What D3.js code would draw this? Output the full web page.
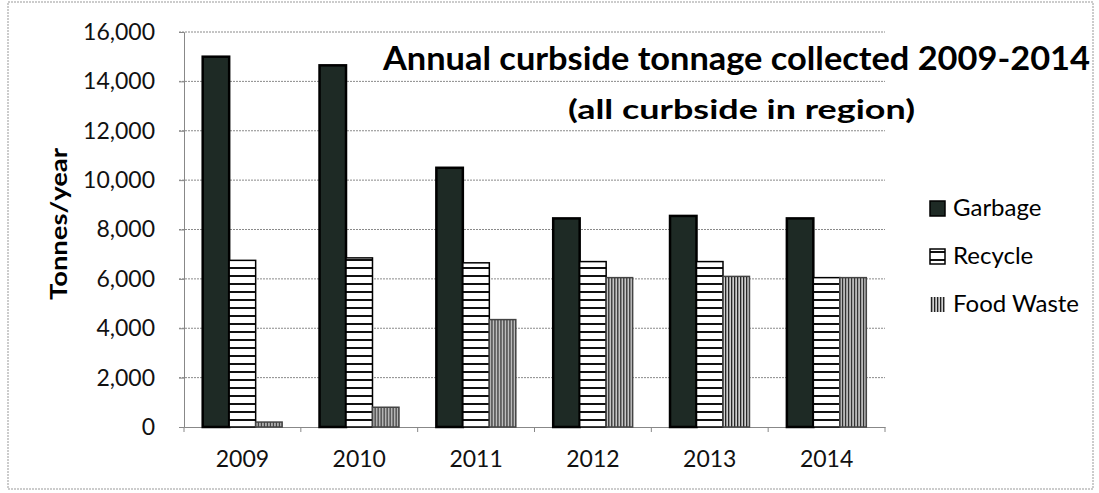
<!doctype html>
<html lang="en">
<head>
<meta charset="utf-8">
<style>
  body { margin: 0; background: #fff; }
  svg { display: block; font-family: Lato, "Open Sans", sans-serif; }
  .grid line { stroke: #8a8a8a; stroke-dasharray: 2,1; }
  .tick text { fill: #111; }
</style>
</head>
<body>
<script src="https://cdn.jsdelivr.net/npm/d3@7"></script>
<script>
var years = ["2009", "2010", "2011", "2012", "2013", "2014"];
var seriesNames = ["Garbage", "Recycle", "Food Waste"];
var garbage = [15000, 14650, 10500, 8450, 8550, 8450];
var recycle = [6750, 6850, 6650, 6700, 6700, 6050];
var foodWaste = [200, 800, 4350, 6050, 6100, 6050];
var yTicks = [0, 2000, 4000, 6000, 8000, 10000, 12000, 14000, 16000];

var width = 1099, height = 493;
var plotL = 184, plotR = 885, plotT = 32, plotB = 427;
var fontFam = "Lato, 'Open Sans', sans-serif";

var svg = d3.select("body").append("svg")
  .attr("width", width)
  .attr("height", height);

// patterns
var defs = svg.append("defs");
var pr = defs.append("pattern").attr("id", "hstripe")
  .attr("patternUnits", "userSpaceOnUse").attr("width", 8).attr("height", 8);
pr.append("rect").attr("width", 8).attr("height", 8).attr("fill", "#fff");
pr.append("rect").attr("y", 3).attr("width", 8).attr("height", 2).attr("fill", "#111");

var pf = defs.append("pattern").attr("id", "vstripe")
  .attr("patternUnits", "userSpaceOnUse").attr("width", 3).attr("height", 3);
pf.append("rect").attr("width", 3).attr("height", 3).attr("fill", "#d0d0d0");
pf.append("rect").attr("x", 1).attr("width", 1.3).attr("height", 3).attr("fill", "#222");

var fills = ["#1e2a25", "url(#hstripe)", "url(#vstripe)"];

// outer border
svg.append("rect")
  .attr("x", 8).attr("y", 2).attr("width", 1085).attr("height", 487)
  .attr("fill", "none").attr("stroke", "#999").attr("stroke-dasharray", "2,1");

var y = d3.scaleLinear().domain([0, 16000]).range([plotB, plotT]);
var x0 = d3.scaleBand().domain(years).range([plotL, plotR])
  .paddingInner(0.32).paddingOuter(0.16);
var x1 = d3.scaleBand().domain(seriesNames).range([0, x0.bandwidth()]);

// gridlines
svg.append("g").attr("class", "grid")
  .selectAll("line").data(yTicks.slice(1)).enter().append("line")
  .attr("x1", plotL - 5).attr("x2", plotR)
  .attr("y1", function(d) { return y(d); })
  .attr("y2", function(d) { return y(d); });

// y axis
var yAxis = svg.append("g")
  .attr("transform", "translate(" + plotL + ",0)")
  .call(d3.axisLeft(y).tickValues(yTicks).tickFormat(d3.format(",")).tickSize(5).tickPadding(24));
yAxis.attr("font-family", fontFam);
yAxis.selectAll("text").style("font-size", "23px");
yAxis.select(".domain").attr("stroke", "#888");
yAxis.selectAll(".tick line").attr("stroke", "#888");

// x axis
var xAxis = svg.append("g")
  .attr("transform", "translate(0," + plotB + ")")
  .call(d3.axisBottom(x0).tickSize(0).tickPadding(24));
xAxis.attr("font-family", fontFam);
xAxis.selectAll("text").style("font-size", "23px");
xAxis.select(".domain").attr("stroke", "#888");
var step = x0.step();
xAxis.selectAll(".sep").data(d3.range(years.length + 1)).enter().append("line")
  .attr("x1", function(i) { return plotL + i * step; })
  .attr("x2", function(i) { return plotL + i * step; })
  .attr("y1", 0).attr("y2", 5).attr("stroke", "#888");

// bars
var rows = years.map(function(yr, i) {
  return { year: yr, vals: [garbage[i], recycle[i], foodWaste[i]] };
});
var groups = svg.append("g").selectAll("g").data(rows).enter().append("g")
  .attr("transform", function(d) { return "translate(" + x0(d.year) + ",0)"; });
groups.selectAll("rect")
  .data(function(d) { return d.vals.map(function(v, k) { return { name: seriesNames[k], k: k, v: v }; }); })
  .enter().append("rect")
  .attr("x", function(d) { return x1(d.name); })
  .attr("width", x1.bandwidth())
  .attr("y", function(d) { return y(d.v); })
  .attr("height", function(d) { return plotB - y(d.v); })
  .attr("fill", function(d) { return fills[d.k]; })
  .attr("stroke", function(d) { return d.k == 2 ? "#444" : "#000"; })
  .attr("stroke-width", function(d) { return d.k == 0 ? 2.5 : 1.5; });

// title
svg.append("text")
  .attr("x", 383).attr("y", 70)
  .attr("textLength", 707).attr("lengthAdjust", "spacingAndGlyphs")
  .style("font-size", "33px").style("font-weight", "bold")
  .text("Annual curbside tonnage collected 2009-2014");
svg.append("text")
  .attr("x", 568).attr("y", 119)
  .attr("textLength", 347).attr("lengthAdjust", "spacingAndGlyphs")
  .style("font-size", "27px").style("font-weight", "bold")
  .text("(all curbside in region)");

// y title
svg.append("text")
  .attr("transform", "translate(67,224) rotate(-90)")
  .attr("text-anchor", "middle")
  .attr("textLength", 152).attr("lengthAdjust", "spacingAndGlyphs")
  .style("font-size", "23px").style("font-weight", "bold")
  .text("Tonnes/year");

// legend
var legend = svg.append("g").selectAll("g").data(seriesNames).enter().append("g")
  .attr("transform", function(d, i) { return "translate(930," + (216 + i * 48) + ")"; });
legend.append("rect")
  .attr("x", 0).attr("y", -15).attr("width", 15).attr("height", 15)
  .attr("fill", function(d, i) { return fills[i]; })
  .attr("stroke", function(d, i) { return i == 2 ? "none" : "#000"; })
  .attr("stroke-width", 1.5);
legend.append("text")
  .attr("x", 23).attr("y", 0)
  .style("font-size", "24px")
  .text(function(d) { return d; });
</script>
</body>
</html>
